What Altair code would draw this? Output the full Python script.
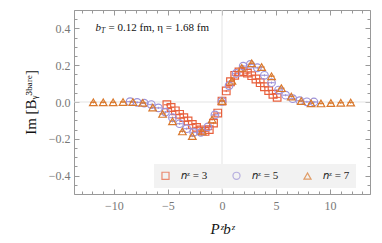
import math
import altair as alt
import pandas as pd

# lattice separations b (in lattice units), L = 48
b_vals = list(range(-13, 14))
momenta = [3, 5, 7]
series_names = ["𝑛ᶻ = 3", "𝑛ᶻ = 5", "𝑛ᶻ = 7"]

im_n3 = [-0.015, -0.030, -0.048, -0.067, -0.085, -0.103, -0.122, -0.138, -0.152,
         -0.160, -0.150, -0.115, -0.060, 0.005, 0.060, 0.110, 0.145, 0.163, 0.165,
         0.157, 0.143, 0.125, 0.105, 0.083, 0.062, 0.042, 0.025]
im_n5 = [0.002, -0.002, -0.006, -0.014, -0.032, -0.055, -0.085, -0.118, -0.145,
         -0.165, -0.165, -0.135, -0.070, 0.003, 0.089, 0.155, 0.195, 0.204, 0.186,
         0.145, 0.105, 0.065, 0.037, 0.018, 0.007, 0.001, 0.000]
im_n7 = [-0.002, -0.002, -0.002, 0.000, 0.000, -0.005, -0.030, -0.065, -0.105,
         -0.160, -0.185, -0.160, -0.095, 0.005, 0.115, 0.185, 0.210, 0.190, 0.140,
         0.075, 0.030, 0.005, -0.007, -0.008, -0.006, -0.004, -0.003]
err = 0.006

x_major = [-10, -5, 0, 5, 10]
x_minor = [v for v in range(-13, 14) if v % 5 != 0]
y_major = [-0.4, -0.2, 0.0, 0.2, 0.4]
y_minor = [round(-0.5 + 0.05 * i, 2) for i in range(21) if round(-0.5 + 0.05 * i, 2) not in y_major]

rows = []
for n, name, vals in zip(momenta, series_names, [im_n3, im_n5, im_n7]):
    for b, v in zip(b_vals, vals):
        rows.append({"x": 2 * math.pi * n * b / 48, "y": v, "lo": v - err, "hi": v + err,
                     "series": name, "order": n})
df = pd.DataFrame(rows)

W, H = 296, 184
FONT = "Liberation Serif"
GRAY = "#999999"
colors = ["#E8603C", "#9D92D8", "#D9782C"]
xs = alt.Scale(domain=[-13.7, 13.7], nice=False, zero=False)
ys = alt.Scale(domain=[-0.5, 0.5], nice=False, zero=False)
cscale = alt.Scale(domain=series_names, range=colors)
sscale = alt.Scale(domain=series_names, range=["square", "circle", "triangle-up"])

leg = alt.Legend(title=None, orient="none", legendX=80, legendY=154,
                 direction="horizontal", fillColor="#f2f2f2",
                 padding=6, labelFont=FONT, labelFontSize=11,
                 labelColor="#222", columnPadding=22,
                 symbolSize=50, symbolStrokeWidth=1.2, labelOffset=10,
                 symbolFillColor="transparent")

base = alt.Chart(df)

zero_x = alt.Chart(pd.DataFrame({"v": [0]})).mark_rule(color="#e3e3e3", strokeWidth=1).encode(
    x=alt.X("v:Q", scale=xs, axis=None))
zero_y = alt.Chart(pd.DataFrame({"v": [0]})).mark_rule(color="#e3e3e3", strokeWidth=1).encode(
    y=alt.Y("v:Q", scale=ys, axis=None))

points = base.mark_point(filled=False, size=58, strokeWidth=1.2, opacity=1).encode(
    x=alt.X("x:Q", scale=xs,
            axis=alt.Axis(values=x_major, format="d", ticks=False, domain=False, grid=False,
                          labelFont=FONT, labelFontSize=12, labelColor="#777",
                          labelPadding=6, title="Pᶻbᶻ", titleFont=FONT, titleFontSize=15,
                          titleFontWeight="normal", titleFontStyle="italic",
                          titleColor="#111", titlePadding=10)),
    y=alt.Y("y:Q", scale=ys,
            axis=alt.Axis(values=y_major, format=".1f", ticks=False, domain=False, grid=False,
                          labelFont=FONT, labelFontSize=12, labelColor="#777",
                          labelPadding=4, title="Im [Bᵧ³ᵇᵃʳᵉ]", titleFont=FONT,
                          titleFontSize=15, titleFontWeight="normal", titleColor="#111",
                          titlePadding=10)),
    stroke=alt.Stroke("series:N", scale=cscale, legend=leg),
    shape=alt.Shape("series:N", scale=sscale, legend=leg),
    order=alt.Order("order:Q"))

bars = base.mark_rule(strokeWidth=1).encode(
    x=alt.X("x:Q", scale=xs, axis=None), y=alt.Y("lo:Q", scale=ys, axis=None), y2="hi:Q",
    stroke=alt.Stroke("series:N", scale=cscale, legend=leg))
caps = base.mark_tick(orient="horizontal", size=6, thickness=0.1, filled=False,
                      strokeWidth=1).encode(
    x=alt.X("x:Q", scale=xs, axis=None), y=alt.Y("y:Q", scale=ys, axis=None),
    stroke=alt.Stroke("series:N", scale=cscale, legend=leg))


def tick_layer(xorient, xoff, yorient, yoff, xvals, yvals, size):
    return alt.Chart(pd.DataFrame({"x": [0], "y": [0]})).mark_point(opacity=0).encode(
        x=alt.X("x:Q", scale=xs, axis=alt.Axis(orient=xorient, offset=xoff, values=xvals,
                                                labels=False, domain=False, grid=False,
                                                tickColor=GRAY, tickSize=size, title=None)),
        y=alt.Y("y:Q", scale=ys, axis=alt.Axis(orient=yorient, offset=yoff, values=yvals,
                                                labels=False, domain=False, grid=False,
                                                tickColor=GRAY, tickSize=size, title=None)))


t1 = tick_layer("top", -H, "right", -W, x_major, y_major, 5)
t2 = tick_layer("top", -H, "right", -W, x_minor, y_minor, 3)
t3 = tick_layer("bottom", -H, "left", -W, x_major, y_major, 5)
t4 = tick_layer("bottom", -H, "left", -W, x_minor, y_minor, 3)

ann = pd.DataFrame({"x": [-11.7], "y": [0.4]})
a1 = alt.Chart(ann).mark_text(text="b", align="left", baseline="middle", font=FONT,
                              fontSize=11, fontStyle="italic", color="#111").encode(
    x=alt.X("x:Q", scale=xs, axis=None), y=alt.Y("y:Q", scale=ys, axis=None))
a2 = alt.Chart(ann).mark_text(text="T", align="left", baseline="middle", font=FONT,
                              fontSize=7.5, fontStyle="italic", color="#111", dx=5.5, dy=3).encode(
    x=alt.X("x:Q", scale=xs, axis=None), y=alt.Y("y:Q", scale=ys, axis=None))
a3 = alt.Chart(ann).mark_text(text="= 0.12 fm,  η = 1.68 fm", align="left", baseline="middle",
                              font=FONT, fontSize=11, color="#111", dx=13).encode(
    x=alt.X("x:Q", scale=xs, axis=None), y=alt.Y("y:Q", scale=ys, axis=None))

chart = alt.layer(zero_x, zero_y, bars, caps, points, t1, t2, t3, t4, a1, a2, a3).resolve_axis(
    x="independent", y="independent").properties(
    width=W, height=H, autosize=alt.AutoSizeParams(type="none"),
    padding={"left": 66, "top": 2, "right": 4, "bottom": 49}).configure_view(
    stroke=GRAY, strokeWidth=1)

chart.save("out.html", embed_options={"renderer": "svg", "actions": False})
